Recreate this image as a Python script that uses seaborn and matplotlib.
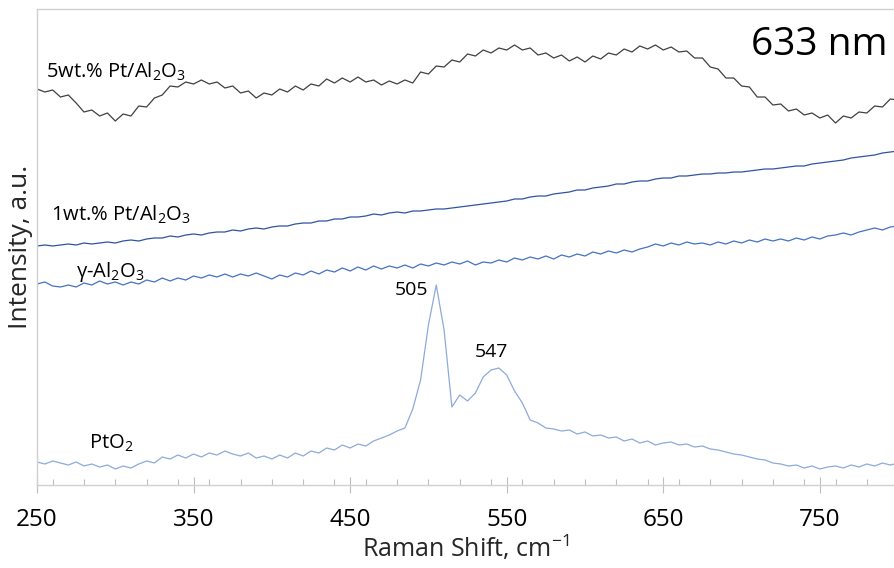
import numpy as np
import pandas as pd
import matplotlib
matplotlib.use("Agg")
import matplotlib.pyplot as plt
from matplotlib.ticker import MultipleLocator
import seaborn as sns

# Raman shift grid (cm-1)
shift = np.arange(250, 801, 5)

# Stacked spectra, intensity in arbitrary units (offset for display)
pt5_al2o3 = [396, 393, 395, 388, 390, 382, 373, 375, 369, 372, 364, 371, 369, 379, 378, 387,
             390, 399, 398, 403, 401, 405, 401, 403, 397, 399, 392, 394, 387, 392, 390, 396,
             393, 399, 395, 401, 399, 406, 402, 407, 403, 408, 403, 405, 400, 404, 401, 405,
             402, 413, 411, 419, 418, 425, 423, 431, 429, 435, 432, 437, 435, 440, 435, 437,
             430, 432, 427, 430, 424, 428, 423, 429, 426, 432, 430, 436, 433, 439, 436, 440,
             435, 438, 433, 434, 427, 427, 418, 416, 407, 407, 399, 398, 388, 388, 380, 381,
             374, 376, 370, 372, 367, 370, 362, 369, 367, 373, 372, 379, 378, 386, 385]

pt1_al2o3 = [239, 240, 239, 240, 241, 240, 242, 241, 242, 243, 242, 244, 245, 244, 246, 247,
             247, 249, 248, 250, 251, 250, 252, 253, 253, 255, 254, 256, 257, 256, 258, 259,
             259, 261, 262, 262, 264, 264, 266, 266, 268, 268, 269, 271, 270, 272, 273, 272,
             274, 274, 275, 276, 276, 277, 278, 279, 280, 281, 282, 283, 284, 286, 286, 288,
             289, 289, 291, 292, 293, 295, 295, 297, 298, 299, 301, 301, 303, 304, 304, 306,
             307, 307, 309, 309, 310, 311, 311, 312, 312, 313, 313, 314, 315, 316, 316, 317,
             318, 319, 319, 321, 322, 323, 324, 325, 327, 328, 329, 330, 332, 333, 334]

gamma_al2o3 = [201, 203, 199, 198, 200, 198, 202, 200, 204, 201, 203, 200, 203, 201, 205, 203,
               207, 204, 207, 205, 209, 207, 210, 208, 211, 208, 211, 209, 212, 209, 206, 210,
               208, 212, 210, 214, 211, 215, 213, 217, 214, 218, 215, 219, 216, 219, 217, 220,
               217, 221, 219, 222, 220, 223, 221, 224, 220, 223, 222, 225, 223, 227, 225, 228,
               226, 229, 226, 230, 228, 231, 229, 233, 231, 234, 232, 235, 233, 236, 238, 241,
               239, 242, 240, 243, 241, 242, 240, 243, 241, 244, 242, 245, 243, 246, 244, 246,
               244, 247, 245, 248, 246, 249, 250, 252, 250, 253, 255, 257, 255, 258, 259]

pto2 = [23, 21, 24, 22, 20, 23, 19, 21, 18, 20, 16, 19, 17, 21, 24, 22,
        28, 26, 30, 27, 31, 28, 32, 30, 34, 31, 29, 32, 27, 29, 26, 30,
        27, 32, 29, 34, 32, 37, 35, 40, 37, 41, 39, 44, 47, 50, 54, 57,
        76, 105, 160, 200, 155, 78, 90, 84, 92, 108, 115, 117, 110, 94, 82, 65,
        62, 57, 56, 54, 55, 51, 53, 49, 50, 47, 48, 44, 46, 42, 44, 40,
        42, 43, 40, 41, 38, 39, 36, 35, 33, 31, 30, 28, 26, 25, 22, 21,
        19, 20, 17, 19, 16, 18, 19, 17, 20, 18, 21, 19, 22, 20, 22]

series_names = ["5wt.% Pt/Al2O3", "1wt.% Pt/Al2O3", "γ-Al2O3", "PtO2"]
series_values = [pt5_al2o3, pt1_al2o3, gamma_al2o3, pto2]
series_colors = ["#404040", "#2f54a0", "#4472c4", "#8eaadb"]

# Curve labels (mathtext subscripts) and where they sit
label_texts = ["5wt.% Pt/Al$\\mathregular{_2}$O$\\mathregular{_3}$",
               "1wt.% Pt/Al$\\mathregular{_2}$O$\\mathregular{_3}$",
               "γ-Al$\\mathregular{_2}$O$\\mathregular{_3}$",
               "PtO$\\mathregular{_2}$"]
label_x = [256.0, 259.0, 275.0, 283.0]
label_y = [413, 270, 213, 42]

# Assigned PtO2 bands (cm-1)
peak_positions = [505, 547]
peak_label_xy = [(489, 195), (540, 133)]

frames = []
for name, vals in zip(series_names, series_values):
    frames.append(pd.DataFrame({"shift": shift, "intensity": vals, "sample": name}))
df = pd.concat(frames, ignore_index=True)

sns.set_style("white")
plt.rcParams["font.family"] = ["Open Sans", "DejaVu Sans"]
plt.rcParams["mathtext.fontset"] = "custom"
plt.rcParams["mathtext.rm"] = "Open Sans"

fig = plt.figure(figsize=(8.95, 5.68), dpi=100)
ax = fig.add_axes([37 / 895, 83 / 568, 858 / 895, 476 / 568])

sns.lineplot(data=df, x="shift", y="intensity", hue="sample",
             hue_order=series_names, palette=series_colors,
             linewidth=0.9, legend=False, ax=ax)

ax.set_xlim(250, 798)
ax.set_ylim(0, 476)

ax.xaxis.set_major_locator(MultipleLocator(100))
ax.xaxis.set_minor_locator(MultipleLocator(20))
ax.set_xticks(np.arange(250, 751, 100))
ax.set_yticks([])
ax.tick_params(axis="x", which="major", direction="inout", length=11, width=0.8,
               color="#bfbfbf", labelsize=17.5, labelcolor="#000000", pad=11)
ax.tick_params(axis="x", which="minor", direction="in", length=4.5, width=0.8,
               color="#bfbfbf")
ax.xaxis.set_ticks_position("bottom")

for side in ["left", "bottom", "top"]:
    ax.spines[side].set_color("#d0d0d0")
    ax.spines[side].set_linewidth(1.0)
ax.spines["right"].set_visible(False)

ax.set_xlabel("Raman Shift, cm$\\mathregular{^{-1}}$", fontsize=18, labelpad=1)
ax.set_ylabel("Intensity, a.u.", fontsize=19, labelpad=3)

for txt, lx, ly in zip(label_texts, label_x, label_y):
    ax.text(lx, ly, txt, fontsize=14.5, ha="left", va="center", color="#000000")

for pos, (tx, ty) in zip(peak_positions, peak_label_xy):
    ax.text(tx, ty, str(pos), fontsize=14, ha="center", va="center", color="#000000")

ax.text(0.912, 0.925, "633 nm", transform=ax.transAxes, fontsize=28,
        ha="center", va="center", color="#000000")

fig.savefig("out.png", dpi=100)
